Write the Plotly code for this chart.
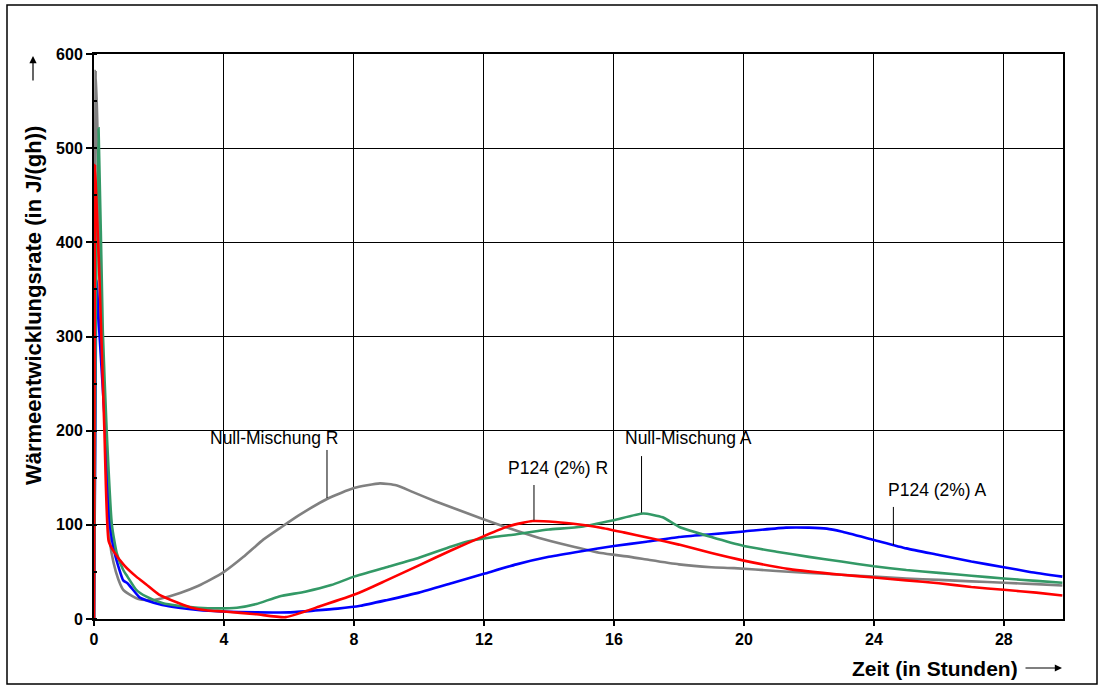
import plotly.graph_objects as go

# ---- data ----
t_null_R = [0, 0.03, 0.05, 0.1, 0.2, 0.3, 0.4, 0.49, 0.6, 0.75, 0.9, 1.1, 1.4, 1.8, 2.1, 2.65,
            3.2, 3.6, 4.0, 4.6, 5.2, 5.7, 6.3, 7.2, 8.0, 8.8, 9.3, 9.8, 10.5, 11.2, 11.9, 12.8,
            13.7, 14.6, 15.6, 16.5, 17.1, 18.0, 19.0, 19.7, 21.0, 22.0, 23.0, 24.0, 25.0, 26.0,
            27.0, 28.0, 29.0, 29.8]
v_null_R = [0, 420, 582, 530, 340, 240, 160, 82, 60, 42, 31, 26, 21, 20, 22, 27.6,
            35, 42, 50, 66, 84, 96, 110, 128, 139, 144, 142, 135, 125, 116, 107, 96,
            86, 78, 70, 66, 62.6, 58, 55, 54, 51, 49, 47, 45, 43, 41.5, 40, 38.5, 37, 35.5]

t_null_A = [0, 0.05, 0.14, 0.27, 0.39, 0.55, 0.7, 0.9, 1.03, 1.3, 1.6, 2.1, 2.6, 3.2, 3.8,
            4.4, 5.0, 5.7, 6.5, 7.3, 8.0, 9.0, 10.0, 11.0, 11.6, 12.3, 13.0, 13.5, 14.0, 15.0,
            16.0, 16.9, 17.5, 18.0, 19.0, 20.0, 21.0, 22.0, 23.0, 24.0, 25.0, 26.0, 27.0,
            28.0, 29.0, 29.8]
v_null_A = [0, 300, 521, 307, 200, 100, 70, 52, 45, 31, 24, 17, 14, 12, 11.3,
            12, 16, 24, 29, 36, 45, 55, 65, 77, 83, 87, 90, 92.7, 95, 98,
            105, 112, 108, 98, 87, 77.5, 71.5, 66, 61, 56, 52, 49, 46, 43, 40.5, 38.5]

t_p124_A = [0, 0.04, 0.08, 0.16, 0.35, 0.49, 0.65, 0.9, 1.03, 1.4, 1.6, 2.1, 2.6, 3.2, 3.9,
            5.0, 6.0, 6.8, 7.5, 8.2, 9.0, 10.0, 11.0, 12.0, 13.0, 14.0, 15.0, 16.0, 17.0,
            18.0, 19.0, 20.0, 21.3, 22.0, 22.55, 23.0, 24.0, 25.0, 26.0, 27.0, 28.0, 28.8, 29.8]
v_p124_A = [0, 200, 360, 307, 200, 100, 68, 41, 38, 23, 20, 15, 12, 9.5, 8,
            7, 7, 9, 11, 14, 20, 28, 38, 48, 58, 66, 72, 77.5, 82,
            87, 90, 93, 97, 97, 96, 93, 84, 75, 68, 61, 55, 50, 45]

t_p124_R = [0, 0.03, 0.08, 0.15, 0.22, 0.32, 0.45, 0.6, 0.93, 1.3, 1.6, 2.0, 2.6, 3.0,
            3.5, 4.0, 5.0, 5.9, 7.0, 8.1, 9.0, 10.0, 11.0, 12.0, 12.8, 13.5, 14.2, 15.0, 15.6,
            16.3, 17.1, 18.0, 19.0, 20.0, 21.4, 23.0, 24.0, 25.0, 26.0, 27.0, 28.0, 29.0, 29.8]
v_p124_R = [0, 482, 440, 380, 307, 200, 83, 72, 57, 45, 37, 26, 17, 12,
            9, 8, 5, 2, 14, 27, 41, 57, 73, 88, 99, 104, 103, 100, 97,
            92, 86, 79, 70, 62, 53, 47, 44, 41, 38, 34, 31, 28, 25]

x_ticks = [0, 4, 8, 12, 16, 20, 24, 28]
y_ticks = [0, 100, 200, 300, 400, 500, 600]

# label text, label position, leader line (x, y0, y1)
labels = ["Null-Mischung R", "P124 (2%) R", "Null-Mischung A", "P124 (2%) A"]
label_pos = [(5.54, 192), (14.28, 160), (18.3, 192), (25.95, 137)]
leaders = [(7.17, 179.5, 128.5), (13.54, 142.3, 105), (16.85, 173, 112.9), (24.6, 119, 78.6)]

series = [
    ("Null-Mischung R", t_null_R, v_null_R, "#808080"),
    ("P124 (2%) A", t_p124_A, v_p124_A, "#0000FF"),
    ("Null-Mischung A", t_null_A, v_null_A, "#339966"),
    ("P124 (2%) R", t_p124_R, v_p124_R, "#FF0000"),
]

fig = go.Figure()
for name, t, v, c in series:
    fig.add_trace(go.Scatter(x=t, y=v, mode="lines", name=name,
                             line=dict(color=c, width=2.6, shape="spline", smoothing=0.5),
                             showlegend=False))

for (txt, (lx, ly)) in zip(labels, label_pos):
    fig.add_annotation(x=lx, y=ly, xref="x", yref="y", text=txt, showarrow=False,
                       font=dict(family="Liberation Sans, Arial", size=17.5, color="black"))
for (lx, y0, y1) in leaders:
    fig.add_shape(type="line", xref="x", yref="y", x0=lx, x1=lx, y0=y0, y1=y1,
                  line=dict(color="black", width=1))

W, H = 1104, 690
L, R, T, B = 94, 41, 54, 71
pw, ph = W - L - R, H - T - B

def px2paper(px, py):
    return (px - L) / pw, (H - B - py) / ph

# outer frame
fx0, fy0 = px2paper(7, 684)
fx1, fy1 = px2paper(1097, 5)
fig.add_shape(type="rect", xref="paper", yref="paper", x0=fx0, y0=fy0, x1=fx1, y1=fy1,
              line=dict(color="black", width=1.5), layer="below")

# axis titles
ax_, ay_ = px2paper(33, 306)
fig.add_annotation(xref="paper", yref="paper", x=ax_, y=ay_, text="<b>Wärmeentwicklungsrate (in J/(gh))</b>",
                   textangle=-90, showarrow=False, xanchor="center", yanchor="middle",
                   font=dict(family="Liberation Sans, Arial", size=22, color="black"))
hx, hy = px2paper(33, 56)
fig.add_annotation(xref="paper", yref="paper", x=hx, y=hy, text="", showarrow=True,
                   ax=0, ay=26, axref="pixel", ayref="pixel", arrowhead=2, arrowsize=1.2,
                   arrowwidth=1.2, arrowcolor="black")
tx, ty = px2paper(935, 668)
fig.add_annotation(xref="paper", yref="paper", x=tx, y=ty, text="<b>Zeit (in Stunden)</b>",
                   showarrow=False, xanchor="center", yanchor="middle",
                   font=dict(family="Liberation Sans, Arial", size=21, color="black"))
hx2, hy2 = px2paper(1062, 668)
fig.add_annotation(xref="paper", yref="paper", x=hx2, y=hy2, text="", showarrow=True,
                   ax=-38, ay=0, axref="pixel", ayref="pixel", arrowhead=2, arrowsize=1.2,
                   arrowwidth=1.2, arrowcolor="black")

fig.update_layout(
    width=W, height=H,
    margin=dict(l=L, r=R, t=T, b=B, pad=0),
    paper_bgcolor="white", plot_bgcolor="white",
    font=dict(family="Liberation Sans, Arial", color="black"),
    xaxis=dict(range=[0, 29.82], tickvals=x_ticks, ticktext=[f"<b>{v}</b>" for v in x_ticks],
               showgrid=True, gridcolor="black", gridwidth=1,
               showline=True, linecolor="black", linewidth=2, mirror=True,
               ticks="outside", ticklen=5, tickwidth=2, tickcolor="black",
               tickfont=dict(size=16), zeroline=False),
    yaxis=dict(range=[0, 600], tickvals=y_ticks, ticktext=[f"<b>{v}</b>" for v in y_ticks],
               showgrid=True, gridcolor="black", gridwidth=1,
               showline=True, linecolor="black", linewidth=2, mirror=True,
               ticks="outside", ticklen=6, tickwidth=2, tickcolor="black",
               tickfont=dict(size=16), zeroline=False,
               minor=dict(ticks="inside", dtick=50, ticklen=3, tickwidth=2, tickcolor="black", showgrid=False)),
)

fig.write_html("out.html", config={"displayModeBar": False},
               post_script="document.body.style.margin='0px';document.body.style.overflow='hidden';")
